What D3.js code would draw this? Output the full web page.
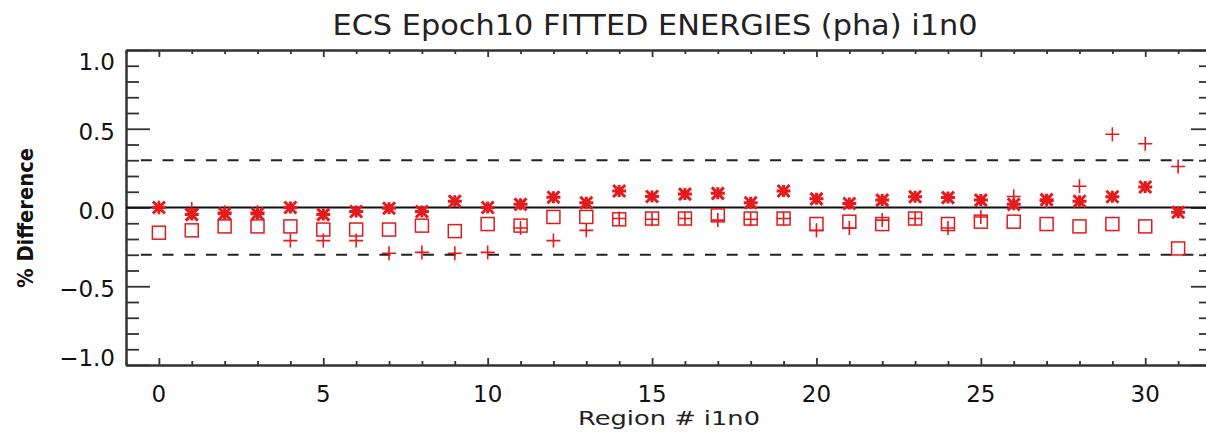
<!DOCTYPE html>
<html>
<head>
<meta charset="utf-8">
<script src="https://cdn.jsdelivr.net/npm/d3@7"></script>
<style>
  body { margin: 0; background: #fff; }
  svg { display: block; }
  .axis path, .axis line { stroke: #333; }
  .axis path { stroke-width: 2; }
  .axis line { stroke-width: 1.8; }
</style>
</head>
<body>
<svg id="chart"></svg>
<script>
// region numbers 0..31
const regions = d3.range(0, 32);

// % difference per region, three fits
const starVals = [0.0, -0.045, -0.04, -0.04, 0.0, -0.045, -0.025, -0.005, -0.025, 0.04,
  0.0, 0.02, 0.065, 0.03, 0.105, 0.07, 0.085, 0.09, 0.03, 0.105,
  0.055, 0.025, 0.047, 0.068, 0.063, 0.047, 0.02, 0.05, 0.04, 0.068,
  0.13, -0.03];
const plusVals = [0.0, -0.01, -0.03, -0.03, -0.21, -0.21, -0.21, -0.29, -0.285, -0.29,
  -0.285, -0.13, -0.21, -0.145, -0.07, -0.075, -0.07, -0.08, -0.075, -0.07,
  -0.145, -0.13, -0.08, -0.07, -0.13, -0.06, 0.07, 0.04, 0.135, 0.465,
  0.405, 0.26];
const squareVals = [-0.16, -0.145, -0.12, -0.12, -0.12, -0.14, -0.14, -0.14, -0.115, -0.15,
  -0.105, -0.115, -0.06, -0.06, -0.075, -0.07, -0.07, -0.05, -0.07, -0.07,
  -0.105, -0.09, -0.105, -0.07, -0.105, -0.09, -0.09, -0.105, -0.12, -0.105,
  -0.12, -0.26];

const limitLines = [0.3, -0.3];
const yMajor = [-1.0, -0.5, 0.0, 0.5, 1.0];
const xMajor = [0, 5, 10, 15, 20, 25, 30];

const W = 1206, H = 445;
const margin = { top: 50, right: -5, bottom: 80, left: 126 },
    width = W - margin.left - margin.right,
    height = H - margin.top - margin.bottom;

const red = "#e41a1c";

const svg = d3.select("#chart").attr("width", W).attr("height", H);
const g = svg.append("g").attr("transform", "translate(" + margin.left + "," + margin.top + ")");

const x = d3.scaleLinear().domain([-1, 32]).range([0, width]);
const y = d3.scaleLinear().domain([-1, 1]).range([height, 0]);

const yMinor = d3.range(-10, 11).map(d => d / 10).filter(d => Math.abs(d * 2 - Math.round(d * 2)) > 1e-6);
const xMinor = d3.range(-1, 33).filter(d => d % 5 !== 0);

// axes: ticks point inward, labels drawn separately
function tickAxis(axisFn, scale, vals, size) {
  return axisFn(scale).tickValues(vals).tickSize(size).tickFormat("");
}
g.append("g").attr("class", "axis").call(tickAxis(d3.axisLeft, y, yMajor, -24).tickSizeOuter(0));
g.append("g").attr("class", "axis").call(tickAxis(d3.axisLeft, y, yMinor, -13).tickSizeOuter(0));
g.append("g").attr("class", "axis").attr("transform", "translate(" + width + ",0)")
  .call(tickAxis(d3.axisRight, y, yMajor, -20).tickSizeOuter(0));
g.append("g").attr("class", "axis").attr("transform", "translate(" + width + ",0)")
  .call(tickAxis(d3.axisRight, y, yMinor, -12).tickSizeOuter(0));
g.append("g").attr("class", "axis").attr("transform", "translate(0," + height + ")")
  .call(tickAxis(d3.axisBottom, x, xMajor, -7).tickSizeOuter(0));
g.append("g").attr("class", "axis").attr("transform", "translate(0," + height + ")")
  .call(tickAxis(d3.axisBottom, x, xMinor, -4).tickSizeOuter(0));
g.append("g").attr("class", "axis")
  .call(tickAxis(d3.axisTop, x, xMajor, -7).tickSizeOuter(0));
g.append("g").attr("class", "axis")
  .call(tickAxis(d3.axisTop, x, xMinor, -4).tickSizeOuter(0));

// y labels (end labels nudged inside the frame like the original)
g.selectAll(".ylab").data(yMajor).enter().append("text")
  .attr("x", -11)
  .attr("y", d => Math.min(Math.max(y(d) + 3, 12), height - 7))
  .attr("dy", "0.35em")
  .attr("text-anchor", "end")
  .style("font-family", "DejaVu Sans")
  .style("font-size", "23px")
  .style("fill", "#111")
  .text(d => d3.format(".1f")(d).replace("-", "\u2212"));

g.selectAll(".xlab").data(xMajor).enter().append("text")
  .attr("x", d => x(d))
  .attr("y", height + 37)
  .attr("text-anchor", "middle")
  .style("font-family", "DejaVu Sans")
  .style("font-size", "23px")
  .style("fill", "#111")
  .text(d => d);

// reference lines
g.append("line")
  .attr("x1", 0).attr("x2", width).attr("y1", y(0)).attr("y2", y(0))
  .attr("stroke", "#111").attr("stroke-width", 1.8);
g.selectAll(".limit").data(limitLines).enter().append("line")
  .attr("x1", x(-0.55)).attr("x2", width).attr("y1", d => y(d)).attr("y2", d => y(d))
  .attr("stroke", "#222").attr("stroke-width", 1.8).attr("stroke-dasharray", "11,10.7");

// markers
g.selectAll(".sq").data(regions).enter().append("rect")
  .attr("x", i => x(i) - 6.5).attr("y", i => y(squareVals[i]) - 6.5)
  .attr("width", 13).attr("height", 13)
  .attr("fill", "none").attr("stroke", red).attr("stroke-width", 1.5);

g.selectAll(".plus").data(regions).enter().append("path")
  .attr("transform", i => "translate(" + x(i) + "," + y(plusVals[i]) + ")")
  .attr("d", "M-7,0H7M0,-7V7")
  .attr("fill", "none").attr("stroke", red).attr("stroke-width", 1.6);

g.selectAll(".star").data(regions).enter().append("path")
  .attr("transform", i => "translate(" + x(i) + "," + y(starVals[i]) + ")")
  .attr("d", "M-7,0H7M0,-6V6M-6,-6L6,6M-6,6L6,-6")
  .attr("fill", "none").attr("stroke", red).attr("stroke-width", 3);

// titles
svg.append("text")
  .attr("x", 655).attr("y", 35)
  .attr("text-anchor", "middle")
  .attr("textLength", 645).attr("lengthAdjust", "spacingAndGlyphs")
  .style("font-family", "DejaVu Sans")
  .style("font-size", "29px")
  .style("fill", "#222")
  .text("ECS Epoch10 FITTED ENERGIES (pha) i1n0");

svg.append("text")
  .attr("x", 669).attr("y", 425)
  .attr("text-anchor", "middle")
  .attr("textLength", 182).attr("lengthAdjust", "spacingAndGlyphs")
  .style("font-family", "DejaVu Sans")
  .style("font-size", "20px")
  .style("fill", "#222")
  .text("Region # i1n0");

svg.append("text")
  .attr("transform", "translate(33,218) rotate(-90)")
  .attr("text-anchor", "middle")
  .attr("textLength", 140).attr("lengthAdjust", "spacingAndGlyphs")
  .style("font-family", "DejaVu Sans")
  .style("font-weight", "bold")
  .style("font-size", "21px")
  .style("fill", "#111")
  .text("% Difference");
</script>
</body>
</html>
